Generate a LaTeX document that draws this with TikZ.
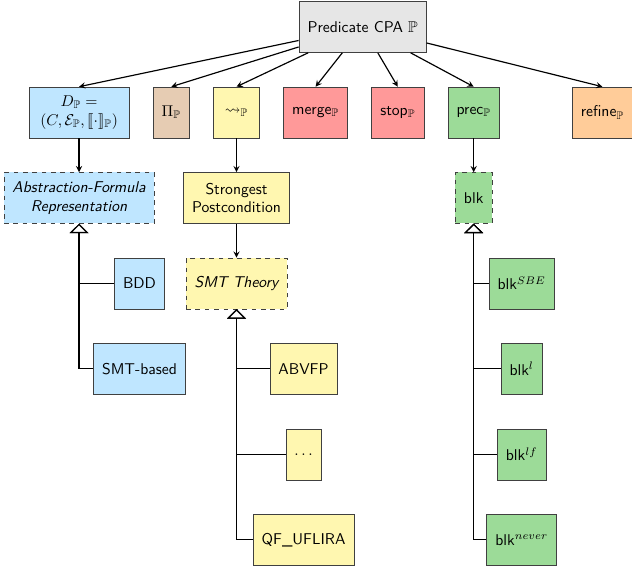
\documentclass[tikz,border=0pt]{standalone}
\usepackage{amssymb}
\usepackage{stmaryrd}
\usetikzlibrary{shapes, arrows, arrows.meta, positioning}
\definecolor{edgegray}{HTML}{404040}
\definecolor{cpagray}{HTML}{E6E6E6}
\definecolor{domblue}{HTML}{BFE6FF}
\definecolor{pitan}{HTML}{E6CCB3}
\definecolor{transyellow}{HTML}{FFF7B0}
\definecolor{opred}{HTML}{FF9999}
\definecolor{precgreen}{HTML}{9CDB98}
\definecolor{reforange}{HTML}{FFCC99}
\tikzstyle{box} = [rectangle, draw=edgegray, minimum height=32.6pt, inner xsep=5.5pt, align=center, font=\sffamily]
\tikzstyle{absbox} = [box, dashed, font=\sffamily\itshape]
\tikzstyle{line} = [line width=0.75pt,-,>=stealth]
\tikzstyle{inherit} = [line width=0.75pt, -{Triangle[width=12pt, length=6pt, fill=white]}]

\begin{document}
\begin{tikzpicture}[node distance=21.7pt and 15pt]
\useasboundingbox (-50.6pt,72pt) rectangle (353.9pt,-290.9pt);
\node (dom) [box, fill=domblue, minimum width=64pt] {$D_\mathbb{P} =$\\$(C, \mathcal{E}_\mathbb{P}, \llbracket\cdot\rrbracket_\mathbb{P})$};
\node (prj) [box, fill=pitan, minimum width=20.5pt, right=of dom] {$\Pi_\mathbb{P}$};
\node (trans) [box, fill=transyellow, minimum width=29.4pt, right=of prj] {$\rightsquigarrow_\mathbb{P}$};
\node (merge) [box, fill=opred, minimum width=40.3pt, right=of trans] {merge$_\mathbb{P}$};
\node (stop) [box, fill=opred, minimum width=32pt, right=of merge] {stop$_\mathbb{P}$};
\node (prec) [box, fill=precgreen, minimum width=31.4pt, right=of stop] {prec$_\mathbb{P}$};
\node (refine) [box, fill=reforange, right=46.2pt of prec] {refine$_\mathbb{P}$};
\node (cpa) [box, fill=cpagray, above=of merge, xshift=30.1pt] {Predicate CPA $\mathbb{P}$};

\node (absrep) [absbox, fill=domblue, below=of dom] {Abstraction-Formula\\Representation};
\node (bdd) [box, fill=domblue, below=of absrep, xshift=38.7pt] {BDD};
\node (smtbased) [box, fill=domblue, below=of bdd] {SMT-based};

\node (sp) [box, fill=transyellow, below=of trans] {Strongest\\Postcondition};
\node (theory) [absbox, fill=transyellow, below=of sp] {SMT Theory};
\node (abvfp) [box, fill=transyellow, below=of theory, xshift=42.9pt] {ABVFP};
\node (more) [box, fill=transyellow, below=of abvfp] {$\dots$};
\node (qf) [box, fill=transyellow, below=of more] {QF\_UFLIRA};

\node (blk) [absbox, font=\sffamily, fill=precgreen, below=of prec] {blk};
\node (sbe) [box, fill=precgreen, below=of blk, xshift=30.7pt] {blk$^{SBE}$};
\node (blkl) [box, fill=precgreen, below=of sbe] {blk$^{l}$};
\node (blklf) [box, fill=precgreen, below=of blkl] {blk$^{lf}$};
\node (never) [box, fill=precgreen, below=of blklf] {blk$^{never}$};

\draw [line,->] (cpa) -- (dom.north);
\draw [line,->] (cpa) -- (prj.north);
\draw [line,->] (cpa) -- (trans.north);
\draw [line,->] (cpa) -- (merge.north);
\draw [line,->] (cpa) -- (stop.north);
\draw [line,->] (cpa) -- (prec.north);
\draw [line,->] (cpa) -- (refine.north);

\draw [line,->] (dom) -- (absrep);
\draw [line,->] (trans) -- (sp);
\draw [line,->] (sp) -- (theory);
\draw [line,->] (prec) -- (blk);

\draw [inherit] (bdd.west) -| (absrep.south);
\draw [inherit] (smtbased.west) -| (absrep.south);
\draw [inherit] (abvfp.west) -| (theory.south);
\draw [inherit] (more.west) -| (theory.south);
\draw [inherit] (qf.west) -| (theory.south);
\draw [inherit] (sbe.west) -| (blk.south);
\draw [inherit] (blkl.west) -| (blk.south);
\draw [inherit] (blklf.west) -| (blk.south);
\draw [inherit] (never.west) -| (blk.south);
\end{tikzpicture}
\end{document}
